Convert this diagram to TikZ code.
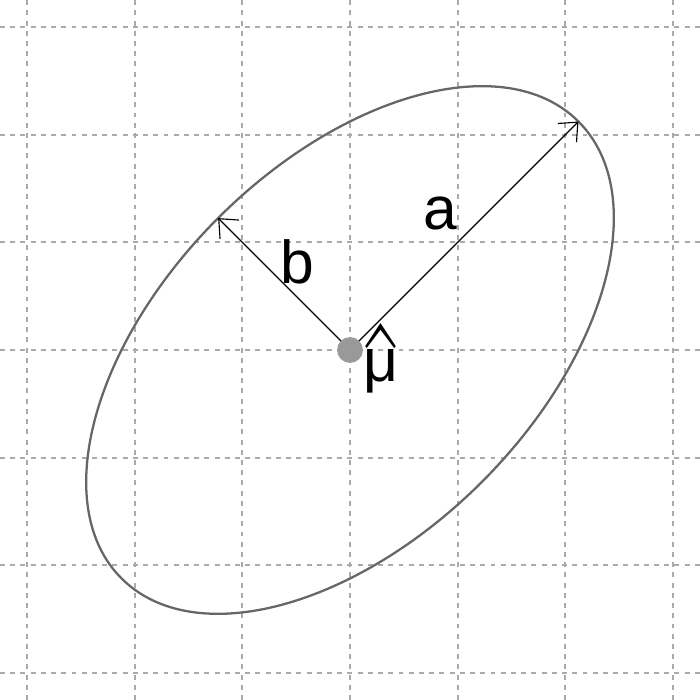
\documentclass[tikz,border=0pt]{standalone}
\usepackage[no-math]{fontspec}
\setmainfont{Liberation Sans}
\usetikzlibrary{arrows.meta,calc}
\definecolor{gridc}{HTML}{AAAAAA}
\definecolor{ellc}{HTML}{666666}
\definecolor{dotc}{HTML}{999999}
\tikzset{
  gridline/.style={gridc, line width=0.5pt, dash pattern=on 1.3pt off 1.4pt},
  axisarrow/.style={black, line width=0.3pt, -{Straight Barb[length=4pt,width=7pt,line width=0.3pt]}},
  lbl/.style={font=\fontsize{16}{18}\selectfont, inner sep=0pt}
}
\begin{document}
\begin{tikzpicture}
\useasboundingbox (0,0) rectangle (6.5,6.5);
\foreach \k in {0.25,1.25,...,6.25} {
  \draw[gridline] (\k,0) -- (\k,6.5);
  \draw[gridline] (0,\k) -- (6.5,\k);
}
\coordinate (c) at (3.25,3.25);
\draw[ellc, line width=0.6pt, rotate around={45:(c)}] (c) ellipse [x radius=3, y radius=1.7320508];
\coordinate (A) at ($(c)+(45:3)$);
\coordinate (B) at ($(c)+(135:1.7320508)$);
\draw[axisarrow] (c) -- (A);
\draw[axisarrow] (c) -- (B);
\fill[dotc] (c) circle (0.12);
\node[lbl] (la) at ($(c)+(0.84,1.27)$) {a};
\node[lbl] (lb) at ($(c)+(-0.49,0.82)$) {b};
\node[lbl, anchor=base] (lm) at ($(c)+(0.29,-0.297)$) {\ooalign{μ\cr\hidewidth\raisebox{-15.6pt}{\scalebox{1.9}[2.6]{$\hat{\hbox{}}$}}\hidewidth\cr}};
\end{tikzpicture}
\end{document}
